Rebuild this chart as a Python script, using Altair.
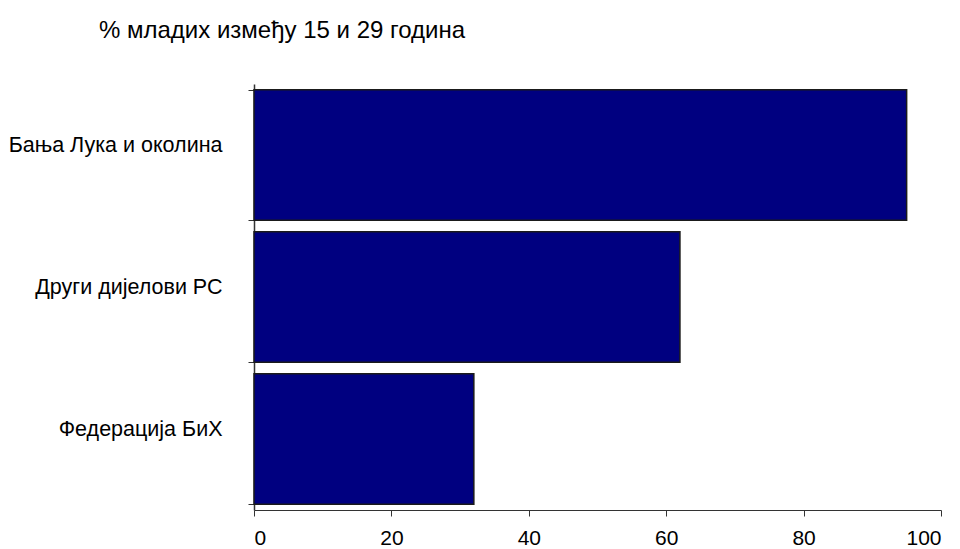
import altair as alt
import pandas as pd

categories = ["Бања Лука и околина", "Други дијелови РС", "Федерација БиХ"]
values = [95, 62, 32]
x_ticks = [0, 20, 40, 60, 80, 100]
title_text = "% младих између 15 и 29 година"

df = pd.DataFrame({"region": categories, "pct": values})

FONT = "Liberation Sans"

chart = (
    alt.Chart(df)
    .mark_bar(color="#000080", stroke="#1a1a1a", strokeWidth=1.5)
    .encode(
        x=alt.X(
            "pct:Q",
            scale=alt.Scale(domain=[0, 100], nice=False, zero=True),
            axis=alt.Axis(
                title=None,
                values=x_ticks,
                format="d",
                grid=False,
                domainColor="#333333",
                domainWidth=1,
                tickColor="#333333",
                tickSize=6,
                labelFont=FONT,
                labelFontSize=21,
                labelColor="#000000",
                labelPadding=11,
            ),
        ),
        y=alt.Y(
            "region:N",
            sort=categories,
            scale=alt.Scale(paddingInner=0.08, paddingOuter=0.04),
            axis=alt.Axis(
                title=None,
                grid=False,
                tickBand="extent",
                domainColor="#333333",
                domainWidth=1.5,
                tickColor="#333333",
                tickSize=6,
                labelFont=FONT,
                labelFontSize=21.5,
                labelColor="#000000",
                labelPadding=26,
                labelOffset=-10,
                labelLimit=300,
            ),
        ),
    )
    .properties(
        width=687,
        height=426,
        title=alt.TitleParams(
            text=title_text,
            anchor="start",
            frame="group",
            dx=-155,
            offset=30,
            font=FONT,
            fontSize=24,
            fontWeight="normal",
            color="#000000",
        ),
        autosize=alt.AutoSizeParams(type="none"),
        padding={"left": 246, "top": 76, "right": 11, "bottom": 40},
    )
    .configure_view(stroke=None)
)

chart.save("out.html", embed_options={"renderer": "svg", "actions": False})
